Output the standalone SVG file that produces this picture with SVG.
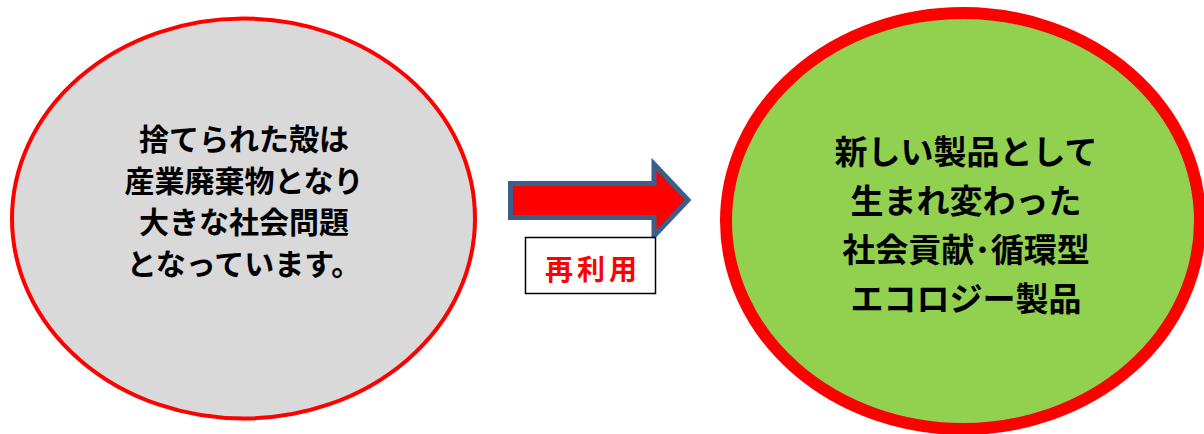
<svg xmlns="http://www.w3.org/2000/svg" width="1204" height="434" viewBox="0 0 1204 434">
<style>
.t{font-family:"Noto Sans CJK JP","Noto Sans CJK SC",sans-serif;font-weight:bold;text-anchor:middle;fill:#000}
</style>
<rect width="1204" height="434" fill="#fff"/>
<g id="waste">
<ellipse cx="243.5" cy="218.5" rx="231.5" ry="200" fill="#D9D9D9" stroke="#FF0000" stroke-width="4"/>
<text class="t" font-size="30" x="244" y="150">捨てられた殻は</text>
<text class="t" font-size="30" x="244" y="192">産業廃棄物となり</text>
<text class="t" font-size="30" x="244" y="233">大きな社会問題</text>
<text class="t" font-size="30" x="244" y="275">となっています。</text>
</g>
<g id="connectors">
<path d="M510.5,183.5 L654,183.5 L654,164 L688,200 L654,236 L654,217.5 L510.5,217.5 Z" fill="#FF0000" stroke="#3A5F8A" stroke-width="5" stroke-linejoin="miter"/>
</g>
<g id="reuse">
<rect x="525.5" y="237.5" width="130" height="56" fill="#fff" stroke="#000" stroke-width="1.5"/>
<text class="t" font-size="28" x="593" y="280" style="fill:#FF0000" letter-spacing="4">再利用</text>
</g>
<g id="product">
<ellipse cx="963" cy="221" rx="237" ry="208" fill="#92D050" stroke="#FF0000" stroke-width="12"/>
<text class="t" font-size="33" x="966" y="164">新しい製品として</text>
<text class="t" font-size="33" x="966" y="213">生まれ変わった</text>
<text class="t" font-size="33" x="966" y="262">社会貢献･循環型</text>
<text class="t" font-size="33" x="966" y="311">エコロジー製品</text>
</g>
</svg>
